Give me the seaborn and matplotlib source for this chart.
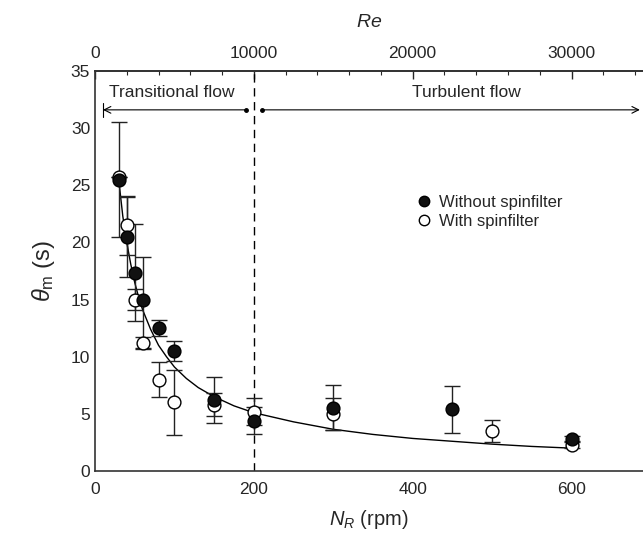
import numpy as np
import pandas as pd
import matplotlib
matplotlib.use("Agg")
import matplotlib.pyplot as plt
import seaborn as sns
from matplotlib.ticker import MultipleLocator
from matplotlib.lines import Line2D

# ---- data ----
n_without = [30, 40, 50, 60, 80, 100, 150, 200, 300, 450, 600]
t_without = [25.5, 20.5, 17.3, 15.0, 12.5, 10.5, 6.2, 4.4, 5.5, 5.4, 2.8]
lo_without = [5.0, 3.5, 4.2, 4.2, 0.7, 0.9, 2.0, 1.2, 1.9, 2.1, 0.3]
hi_without = [5.0, 3.5, 4.3, 3.75, 0.7, 0.9, 2.0, 1.2, 2.0, 2.0, 0.3]

n_with = [30, 40, 50, 60, 80, 100, 150, 200, 300, 500, 600]
t_with = [25.7, 21.5, 15.0, 11.2, 8.0, 6.0, 5.8, 5.2, 5.0, 3.5, 2.3]
err_with = [0.0, 2.6, 0.9, 0.5, 1.5, 2.85, 1.0, 1.2, 1.4, 1.0, 0.3]

n_fit = [30, 35, 40, 45, 50, 55, 60, 70, 80, 90, 100, 115, 130, 150, 175, 200,
         250, 300, 350, 400, 450, 500, 550, 600]
t_fit = [25.4, 22.3, 20.0, 18.1, 16.5, 15.2, 14.1, 12.4, 11.0, 10.0, 9.1, 8.1,
         7.3, 6.5, 5.7, 5.1, 4.3, 3.65, 3.2, 2.85, 2.6, 2.35, 2.15, 2.0]

re_ticks = [0, 10000, 20000, 30000]
y_ticks = [0, 5, 10, 15, 20, 25, 30, 35]
x_ticks = [0, 200, 400, 600]

sns.set_theme(style="white")
plt.rcParams["font.family"] = ["Liberation Sans", "DejaVu Sans"]
plt.rcParams["mathtext.fontset"] = "custom"
plt.rcParams["mathtext.rm"] = "Liberation Sans"
plt.rcParams["mathtext.it"] = "Liberation Sans:italic"

fig = plt.figure(figsize=(6.43, 5.34), dpi=100)
ax = fig.add_axes([95 / 643, 1 - 471 / 534, 1 - 95 / 643, 400 / 534])

df_fit = pd.DataFrame({"N": n_fit, "t": t_fit})
df_wo = pd.DataFrame({"N": n_without, "t": t_without})
df_w = pd.DataFrame({"N": n_with, "t": t_with})

sns.lineplot(data=df_fit, x="N", y="t", ax=ax, color="black", lw=1.0, zorder=2)

ax.errorbar(n_with, t_with, yerr=err_with, fmt="none", ecolor="#222222",
            elinewidth=1.0, capsize=6, capthick=1.0, zorder=3)
ax.errorbar(n_without, t_without, yerr=[lo_without, hi_without], fmt="none",
            ecolor="#222222", elinewidth=1.0, capsize=6, capthick=1.0, zorder=3)

sns.scatterplot(data=df_w, x="N", y="t", ax=ax, s=85, marker="o",
                facecolor="white", edgecolor="black", linewidth=1.0, zorder=4,
                legend=False)
sns.scatterplot(data=df_wo, x="N", y="t", ax=ax, s=85, marker="o",
                facecolor="#111111", edgecolor="black", linewidth=1.0, zorder=5,
                legend=False)

ax.axvline(200, color="black", lw=1.0, ls=(0, (6, 4)), zorder=1)

# flow regime arrows
ax.annotate("", xy=(10, 31.6), xytext=(190, 31.6),
            arrowprops=dict(arrowstyle="->", lw=0.8, color="black",
                            shrinkA=0, shrinkB=0, mutation_scale=12))
ax.annotate("", xy=(686, 31.6), xytext=(210, 31.6),
            arrowprops=dict(arrowstyle="->", lw=0.8, color="black",
                            shrinkA=0, shrinkB=0, mutation_scale=12))
ax.plot([190, 210], [31.6, 31.6], "o", color="black", ms=2.5, zorder=5)
ax.plot([10, 10], [31.0, 32.2], color="black", lw=0.8)
ax.text(97, 33.1, "Transitional flow", ha="center", va="center", fontsize=12.5)
ax.text(468, 33.1, "Turbulent flow", ha="center", va="center", fontsize=12.5)

# legend
handles = [Line2D([], [], ls="none", marker="o", ms=7.5, mfc="#111111", mec="black", mew=1.0),
           Line2D([], [], ls="none", marker="o", ms=7.5, mfc="white", mec="black", mew=1.0)]
ax.legend(handles, ["Without spinfilter", "With spinfilter"], loc="center left",
          bbox_to_anchor=(0.585, 0.648), frameon=False, fontsize=12,
          handlelength=1.0, handletextpad=0.4, labelspacing=0.25,
          borderpad=0, borderaxespad=0)

ax.set_xlim(0, 690)
ax.set_ylim(0, 35)
ax.set_xticks(x_ticks)
ax.set_yticks(y_ticks)
ax.xaxis.set_minor_locator(MultipleLocator(40))
ax.yaxis.set_minor_locator(MultipleLocator(1))
ax.tick_params(which="both", direction="in", color="black", top=False, right=False,
               labelsize=12.5)
ax.tick_params(which="major", length=6, width=1)
ax.tick_params(which="minor", length=3, width=0.8)
ax.tick_params(axis="x", which="major", pad=8)
for side in ["left", "bottom", "top"]:
    ax.spines[side].set_color("#333333")
    ax.spines[side].set_linewidth(1.2)
ax.spines["right"].set_visible(False)

ax.set_xlabel("$N_R$ (rpm)", fontsize=14.5, labelpad=8)
ax.set_ylabel(r"$\theta_{\mathrm{m}}$ (s)", fontsize=17, labelpad=10)

sec = ax.secondary_xaxis("top", functions=(lambda n: n * 50.0, lambda r: r / 50.0))
sec.set_xticks(re_ticks)
sec.xaxis.set_minor_locator(MultipleLocator(2000))
sec.tick_params(which="both", direction="in", labelsize=12.5)
sec.tick_params(which="major", length=6, width=1, pad=7)
sec.tick_params(which="minor", length=3, width=0.8)
sec.set_xlabel("$Re$", fontsize=14, labelpad=14)

fig.savefig("out.png", dpi=100)
